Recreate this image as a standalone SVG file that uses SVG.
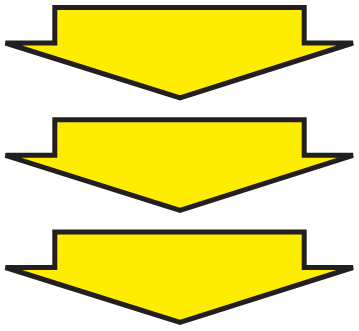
<svg xmlns="http://www.w3.org/2000/svg" width="359" height="331" viewBox="0 0 359 331">
<defs>
<style>
.arrow{fill:#FFED00;stroke:#231F20;stroke-width:5;stroke-linejoin:miter;stroke-miterlimit:4}
</style>
<path id="shape" d="M54.8,0 H304.2 V35.5 H353 L180,90.5 L5.5,35.5 H54.8 Z"/>
</defs>
<rect width="359" height="331" fill="#FFFFFF"/>
<g id="arrow1"><use href="#shape" class="arrow" transform="translate(0,7.5)"/></g>
<g id="arrow2"><use href="#shape" class="arrow" transform="translate(0,119.8)"/></g>
<g id="arrow3"><use href="#shape" class="arrow" transform="translate(0,232)"/></g>
<g id="connectors"></g>
</svg>
